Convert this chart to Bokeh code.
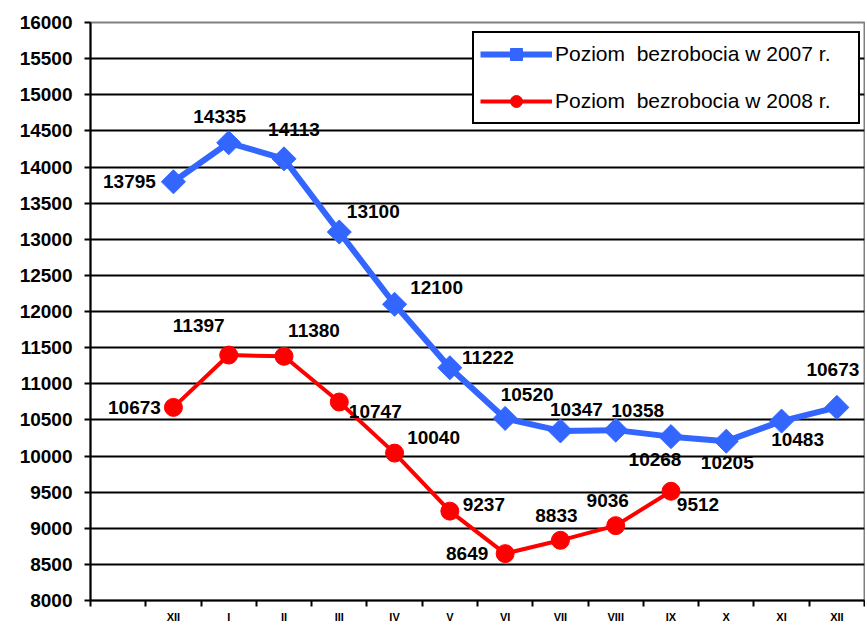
import numpy as np
from bokeh.plotting import figure
from bokeh.models import FixedTicker, Legend, LegendItem, ColumnDataSource, Range1d
from bokeh.core.properties import value
from bokeh.embed import file_html
from bokeh.resources import INLINE

# --- data ---
months = ["XII", "I", "II", "III", "IV", "V", "VI", "VII", "VIII", "IX", "X", "XI", "XII"]
y2007 = [13795, 14335, 14113, 13100, 12100, 11222, 10520, 10347, 10358, 10268, 10205, 10483, 10673]
y2008 = [10673, 11397, 11380, 10747, 10040, 9237, 8649, 8833, 9036, 9512]
name2007 = "Poziom  bezrobocia w 2007 r."
name2008 = "Poziom  bezrobocia w 2008 r."
y_ticks = list(range(8000, 16001, 500))

# label offsets (screen px) – styling only
dx07 = [-44, -9, 10, 34, 42, 38, 22, 16, 22, -16, 1, 16, -4]
dy07 = [0, -26, -29, -21, -17, -10, -24, -21, -20, 23, 21, 18, -38]
dx08 = [-39, -30, 30, 36, 39, 34, -38, -4, -8, 27]
dy08 = [0, -30, -26, 9, -16, -7, 0, -25, -25, 13]

n_slots = len(months) + 1
x_all = [i + 1.5 for i in range(len(months))]
x07 = x_all[:len(y2007)]
x08 = x_all[:len(y2008)]

BLUE = "#3366FF"
RED = "#FF0000"
FONT = value("Liberation Sans")

p = figure(width=865, height=625, output_backend="svg", toolbar_location=None,
           x_range=Range1d(0, n_slots), y_range=Range1d(8000, 16000),
           min_border_left=90, min_border_right=1, min_border_top=22, min_border_bottom=24)
p.background_fill_color = "white"
p.border_fill_color = "white"
p.outline_line_color = "#808080"
p.outline_line_width = 2

# grid
p.xgrid.visible = False
p.ygrid.ticker = FixedTicker(ticks=y_ticks[1:-1])
p.ygrid.grid_line_color = "black"
p.ygrid.grid_line_width = 2

# y axis
p.yaxis.ticker = FixedTicker(ticks=y_ticks)
p.yaxis.axis_line_color = "black"
p.yaxis.axis_line_width = 2
p.yaxis.major_tick_line_width = 2
p.yaxis.major_tick_out = 6
p.yaxis.major_tick_in = 0
p.yaxis.minor_tick_line_color = None
p.yaxis.major_label_standoff = 12
p.yaxis.major_label_text_font = "Liberation Sans"
p.yaxis.major_label_text_font_style = "bold"
p.yaxis.major_label_text_font_size = "19px"
p.yaxis.major_label_text_color = "black"

# x axis
p.xaxis.ticker = FixedTicker(ticks=x_all, minor_ticks=list(range(0, n_slots + 1)))
p.xaxis.major_label_overrides = {x: m for x, m in zip(x_all, months)}
p.xaxis.axis_line_color = "black"
p.xaxis.axis_line_width = 2
p.xaxis.major_tick_line_color = None
p.xaxis.major_tick_out = 0
p.xaxis.major_tick_in = 0
p.xaxis.minor_tick_line_color = "black"
p.xaxis.minor_tick_line_width = 2
p.xaxis.minor_tick_out = 6
p.xaxis.minor_tick_in = 0
p.xaxis.major_label_standoff = 4
p.xaxis.major_label_text_font = "Liberation Sans"
p.xaxis.major_label_text_font_style = "bold"
p.xaxis.major_label_text_font_size = "11px"
p.xaxis.major_label_text_color = "black"

s07 = ColumnDataSource(dict(x=x07, y=y2007, t=[str(v) for v in y2007], dx=dx07, dy=dy07))
s08 = ColumnDataSource(dict(x=x08, y=y2008, t=[str(v) for v in y2008], dx=dx08, dy=dy08))

l07 = p.line("x", "y", source=s07, line_color=BLUE, line_width=6)
m07 = p.scatter("x", "y", source=s07, marker="square", angle=np.pi / 4, size=17,
                fill_color=BLUE, line_color=BLUE)
l08 = p.line("x", "y", source=s08, line_color=RED, line_width=4)
m08 = p.scatter("x", "y", source=s08, marker="circle", size=18,
                fill_color=RED, line_color=RED)

for src in (s07, s08):
    p.text("x", "y", text="t", source=src, x_offset="dx", y_offset="dy",
           text_align="center", text_baseline="middle", text_font=FONT,
           text_font_style="bold", text_font_size="19px", text_color="black")

legend = Legend(items=[LegendItem(label=name2007, renderers=[l07, m07]),
                       LegendItem(label=name2008, renderers=[l08, m08])],
                location=(382, 476))
legend.border_line_color = "black"
legend.border_line_alpha = 1
legend.border_line_width = 2
legend.background_fill_color = "white"
legend.background_fill_alpha = 1
legend.label_text_font = "Liberation Sans"
legend.label_text_font_size = "21px"
legend.label_text_color = "black"
legend.glyph_width = 72
legend.glyph_height = 30
legend.label_height = 30
legend.label_width = 297
legend.spacing = 17
legend.padding = 6
legend.margin = 0
legend.label_standoff = 3
p.add_layout(legend)

open("out.html", "w").write(file_html(p, INLINE))
